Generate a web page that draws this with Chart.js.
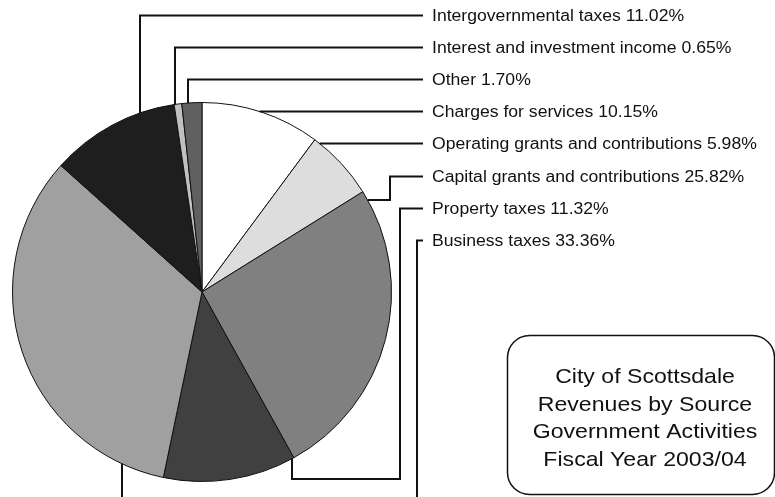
<!DOCTYPE html>
<html>
<head>
<meta charset="utf-8">
<script src="https://cdn.jsdelivr.net/npm/chart.js@4/dist/chart.umd.min.js"></script>
<style>
  html, body { margin: 0; padding: 0; background: #fff; }
  canvas { display: block; }
</style>
</head>
<body>
<canvas id="revPie" width="775" height="497"></canvas>
<script>
/*
City of Scottsdale - revenues by source, government activities FY 2003/04
slices go clockwise from 12 o'clock
*/

// slice data (clockwise order)
const categories = [
    "Charges for services",
    "Operating grants and contributions",
    "Capital grants and contributions",
    "Property taxes",
    "Business taxes",
    "Intergovernmental taxes",
    "Interest and investment income",
    "Other"
]
const shares = [10.15, 5.98, 25.82, 11.32, 33.36, 11.02, 0.65, 1.70]
const sliceColors = ["#ffffff", "#dddddd", "#808080", "#404040", "#a0a0a0", "#1e1e1e", "#c0c0c0", "#606060"]

// label list from top to bottom (indexes into categories)
const labelOrder = [5, 6, 7, 0, 1, 2, 3, 4]

const titleLines = ["City of Scottsdale", "Revenues by Source", "Government Activities", "Fiscal Year 2003/04"]

// leader routing per slice: where it leaves the pie and how it bends
// v = leaves vertically at x, h = leaves horizontally at label row
const leaders = {
    5: { mode: "v", x: 140 },
    6: { mode: "v", x: 175 },
    7: { mode: "v", x: 188 },
    0: { mode: "h" },
    1: { mode: "h" },
    2: { mode: "hy", y: 200, bendX: 390 },
    3: { mode: "vd", x: 292, downTo: 479, bendX: 400 },
    4: { mode: "vd", x: 122, downTo: 510, bendX: 417 }
}

const LABEL_X = 432
const LINE_END = 423
const FIRST_BASE = 20.5
const ROW_GAP = 32.2

const fmt = (v) => v.toFixed(2) + "%"

/**
@pre pie drawn
@post leader lines, labels and title box drawn on top
*/
const calloutPlugin = {
    id: "callouts",
    afterDraw: (chart) => {
        const ctx = chart.ctx
        const arc = chart.getDatasetMeta(0).data[0]
        const cx = arc.x, cy = arc.y, r = arc.outerRadius

        const edgeY = (x, down) => {
            let d = Math.sqrt(Math.max(r * r - (x - cx) * (x - cx), 0))
            return down ? cy + d : cy - d
        }
        const edgeX = (y) => cx + Math.sqrt(Math.max(r * r - (y - cy) * (y - cy), 0))

        ctx.save()
        ctx.strokeStyle = "#111"
        ctx.lineWidth = 2
        labelOrder.forEach((idx, row) => {
            const base = FIRST_BASE + ROW_GAP * row
            const ly = Math.round(base - 6) + 0.5
            const ld = leaders[idx]
            let pts = []
            if (ld.mode == "v") {
                pts = [[ld.x, edgeY(ld.x, false)], [ld.x, ly], [LINE_END, ly]]
            } else if (ld.mode == "h") {
                pts = [[edgeX(ly), ly], [LINE_END, ly]]
            } else if (ld.mode == "hy") {
                pts = [[edgeX(ld.y), ld.y], [ld.bendX, ld.y], [ld.bendX, ly], [LINE_END, ly]]
            } else {
                pts = [[ld.x, edgeY(ld.x, true)], [ld.x, ld.downTo], [ld.bendX, ld.downTo], [ld.bendX, ly], [LINE_END, ly]]
            }
            ctx.beginPath()
            pts.forEach((p, i) => i == 0 ? ctx.moveTo(p[0], p[1]) : ctx.lineTo(p[0], p[1]))
            ctx.stroke()

            // label text, slightly wide like the source
            ctx.save()
            ctx.fillStyle = "#111"
            ctx.font = "16px 'Liberation Sans', Arial, sans-serif"
            ctx.textBaseline = "alphabetic"
            ctx.translate(LABEL_X, base)
            ctx.scale(1.1, 1)
            ctx.fillText(categories[idx] + " " + fmt(shares[idx]), 0, 0)
            ctx.restore()
        })

        // title box
        const bx = 507.5, by = 335.5, bw = 267, bh = 159, rad = 22
        ctx.beginPath()
        ctx.moveTo(bx + rad, by)
        ctx.lineTo(bx + bw - rad, by)
        ctx.arcTo(bx + bw, by, bx + bw, by + rad, rad)
        ctx.lineTo(bx + bw, by + bh - rad)
        ctx.arcTo(bx + bw, by + bh, bx + bw - rad, by + bh, rad)
        ctx.lineTo(bx + rad, by + bh)
        ctx.arcTo(bx, by + bh, bx, by + bh - rad, rad)
        ctx.lineTo(bx, by + rad)
        ctx.arcTo(bx, by, bx + rad, by, rad)
        ctx.closePath()
        ctx.fillStyle = "#fff"
        ctx.fill()
        ctx.lineWidth = 1.5
        ctx.strokeStyle = "#111"
        ctx.stroke()

        ctx.fillStyle = "#111"
        ctx.font = "21px 'Liberation Sans', Arial, sans-serif"
        ctx.textAlign = "center"
        titleLines.forEach((t, i) => {
            ctx.save()
            ctx.translate(645, 383 + 27.7 * i)
            ctx.scale(1.1, 1)
            ctx.fillText(t, 0, 0)
            ctx.restore()
        })
        ctx.restore()
    }
}

const pieChart = new Chart("revPie", {
    type: "pie",
    data: {
        labels: categories,
        datasets: [{
            data: shares,
            backgroundColor: sliceColors,
            borderColor: "#111",
            borderWidth: 1
        }]
    },
    options: {
        responsive: false,
        animation: false,
        layout: { padding: { left: 12, top: 102, right: 383, bottom: 15 } },
        plugins: {
            legend: { display: false },
            tooltip: { enabled: false }
        }
    },
    plugins: [calloutPlugin]
})
</script>
</body>
</html>
